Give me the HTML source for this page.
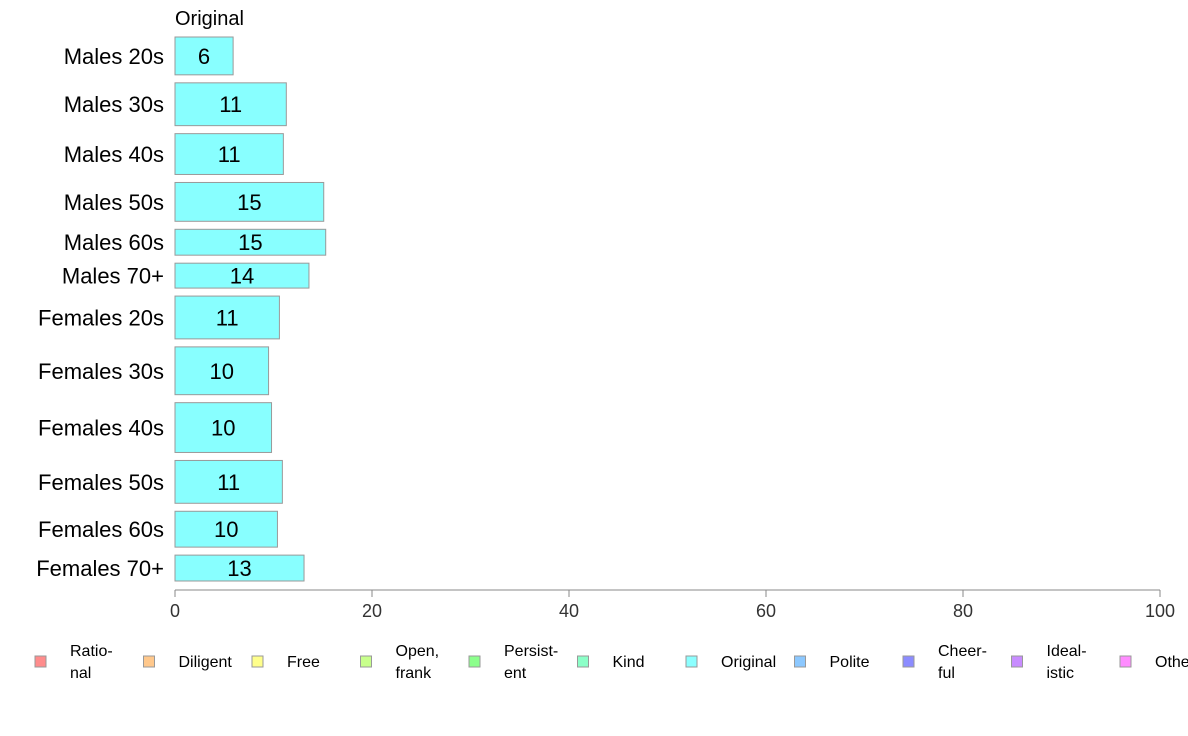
<!DOCTYPE html>
<html><head><meta charset="utf-8">
<style>
html,body{margin:0;padding:0;background:#fff;}
svg{display:block;font-family:"Liberation Sans",Arial,sans-serif;}
</style></head>
<body>
<svg id="chart" width="1188" height="736" viewBox="0 0 1188 736" xmlns="http://www.w3.org/2000/svg">
<text x="175" y="25" font-size="20" fill="#000">Original</text>
</svg>
<script>
const categories = ["Males 20s","Males 30s","Males 40s","Males 50s","Males 60s","Males 70+","Females 20s","Females 30s","Females 40s","Females 50s","Females 60s","Females 70+"];
const values = [5.9, 11.3, 11.0, 15.1, 15.3, 13.6, 10.6, 9.5, 9.8, 10.9, 10.4, 13.1];
const weights = [38, 43, 41, 39, 26, 25, 43, 48, 50, 43, 36, 26];
const tickValues = [0, 20, 40, 60, 80, 100];
const legendLabels = [["Ratio-","nal"],["Diligent"],["Free"],["Open,","frank"],["Persist-","ent"],["Kind"],["Original"],["Polite"],["Cheer-","ful"],["Ideal-","istic"],["Other"]];
const legendColors = ["#ff8c8c","#ffc88c","#ffff8c","#c8ff8c","#8cff8c","#8cffc8","#8cffff","#8cc8ff","#8c8cff","#c88cff","#ff8cff"];

const NS = "http://www.w3.org/2000/svg";
const svg = document.getElementById("chart");
const x0 = 175, x1 = 1160, yTop = 37, yBot = 581, gapTotal = 8*11;
const xScale = v => x0 + (v/100)*(x1-x0);
function mk(tag, attrs){const e=document.createElementNS(NS,tag);for(const k in attrs)e.setAttribute(k,attrs[k]);svg.appendChild(e);return e;}

const wSum = weights.reduce((a,b)=>a+b,0);
const unit = (yBot-yTop-gapTotal)/wSum;
let y = yTop;
categories.forEach((c,i)=>{
  const h = weights[i]*unit;
  const r = mk("rect",{x:x0,y:y,width:xScale(values[i])-x0,height:h,fill:"#88ffff",stroke:"#999","stroke-width":1});
  
  
  const t = mk("text",{x:(x0+xScale(values[i]))/2,y:y+h/2+8,"font-size":22,"text-anchor":"middle"});
  t.textContent = Math.round(values[i]);
  
  
  const l = mk("text",{x:164,y:y+h/2+8,"font-size":22,"text-anchor":"end"});
  l.textContent = c;
  
  
  y += h + 8;
});

const ax = mk("line",{x1:x0,y1:590,x2:x1,y2:590,stroke:"#888","stroke-width":1});


tickValues.forEach(v=>{
  const tk = mk("line",{x1:xScale(v),y1:590,x2:xScale(v),y2:597,stroke:"#888","stroke-width":1});
  
  
  const tl = mk("text",{x:xScale(v),y:617,"font-size":18,"text-anchor":"middle",fill:"#333"});
  tl.textContent = v;
  
  
});

legendLabels.forEach((lab,i)=>{
  const bx = 35 + i*108.5;
  const b = mk("rect",{x:bx,y:656,width:11,height:11,fill:legendColors[i],stroke:"#999","stroke-width":1});
  
  
  const t = mk("text",{x:bx+35,"font-size":16,fill:"#000"});
  
  
  if(lab.length===1){
    t.setAttribute("y",667);
    t.textContent = lab[0];
  } else {
    lab.forEach((s,j)=>{
      const sp=document.createElementNS(NS,"tspan");
      sp.setAttribute("x",bx+35);
      sp.setAttribute("y",656+j*22);
      sp.textContent=s;
      t.appendChild(sp);
    });
  }
});
</script>
</body></html>
